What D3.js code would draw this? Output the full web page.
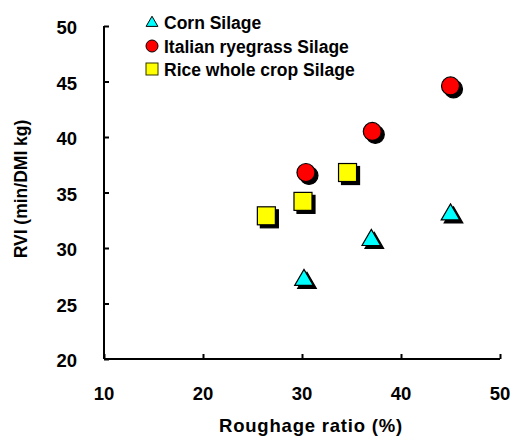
<!DOCTYPE html>
<html>
<head>
<meta charset="utf-8">
<script src="https://cdn.jsdelivr.net/npm/d3@7"></script>
<style>
  body { margin: 0; background: #fff; }
  text { font-family: "Liberation Sans", Arial, sans-serif; font-weight: bold; }
</style>
</head>
<body>
<div id="chart"></div>
<script>
// data
var seriesNames = ['Corn Silage', 'Italian ryegrass Silage', 'Rice whole crop Silage'];
var cornX = [30.2, 37.0, 45.0];
var cornY = [27.2, 30.8, 33.1];
var ryeX = [30.4, 37.1, 45.0];
var ryeY = [36.8, 40.5, 44.6];
var riceX = [26.4, 30.1, 34.6];
var riceY = [32.9, 34.2, 36.8];
var xTicks = [10, 20, 30, 40, 50];
var yTicks = [20, 25, 30, 35, 40, 45, 50];

(function () {
    "use strict";
    var W = 512, H = 436;
    var svg = d3.select('#chart').append('svg')
        .attr('width', W).attr('height', H);

    var x = d3.scaleLinear().domain([10, 50]).range([104, 500]);
    var y = d3.scaleLinear().domain([20, 50]).range([359, 26]);

    //axes
    var xAxis = svg.append('g')
        .attr('transform', 'translate(0,' + y(20) + ')')
        .call(d3.axisTop(x).tickValues(xTicks).tickSize(5).tickFormat(''));
    var yAxis = svg.append('g')
        .attr('transform', 'translate(' + x(10) + ',0)')
        .call(d3.axisRight(y).tickValues(yTicks).tickSize(5).tickFormat(''));
    [xAxis, yAxis].forEach(function (a) {
        a.select('.domain').attr('stroke', '#000').attr('stroke-width', 2);
        a.selectAll('.tick line').attr('stroke', '#000').attr('stroke-width', 2);
    });
    xAxis.select('.domain').attr('d', 'M' + x(10) + ',0H' + x(50));
    yAxis.select('.domain').attr('d', 'M0,' + y(20) + 'V' + y(50));

    // tick labels
    svg.selectAll('.xl').data(xTicks).enter().append('text')
        .attr('x', function (d) { return x(d); })
        .attr('y', 400)
        .attr('text-anchor', 'middle')
        .style('font-size', '18.5px')
        .text(function (d) { return d; });
    svg.selectAll('.yl').data(yTicks).enter().append('text')
        .attr('x', 77)
        .attr('y', function (d) { return y(d) + 8; })
        .attr('text-anchor', 'end')
        .style('font-size', '18.5px')
        .text(function (d) { return d; });

    svg.append('text')
        .attr('x', 311).attr('y', 432)
        .attr('text-anchor', 'middle')
        .style('font-size', '18.5px')
        .style('letter-spacing', '0.8px')
        .text('Roughage ratio (%)');
    svg.append('text')
        .attr('transform', 'translate(27,' + 189 + ') rotate(-90)')
        .attr('text-anchor', 'middle')
        .style('font-size', '17.5px')
        .text('RVI (min/DMI kg)');

    //markers
    var tri = d3.symbol().type(d3.symbolTriangle).size(150);
    function draw(xs, ys, kind) {
        xs.forEach(function (xv, i) {
            var cx = x(xv), cy = y(ys[i]);
            [[3, 3, '#000'], [0, 0, null]].forEach(function (o) {
                var g = svg.append('g').attr('transform', 'translate(' + (cx + o[0]) + ',' + (cy + o[1]) + ')');
                var m;
                if (kind === 'tri') {
                    m = g.append('path').attr('d', tri).attr('transform', 'translate(0,1)').attr('fill', o[2] || '#00ffff');
                } else if (kind === 'circle') {
                    m = g.append('circle').attr('r', 9).attr('fill', o[2] || '#ff0000');
                } else {
                    m = g.append('rect').attr('x', -9).attr('y', -9).attr('width', 18).attr('height', 18)
                        .attr('fill', o[2] || '#ffff00');
                }
                m.attr('stroke', '#000').attr('stroke-width', 1.2);
            });
        });
    }
    draw(cornX, cornY, 'tri');
    draw(ryeX, ryeY, 'circle');
    draw(riceX, riceY, 'rect');

    //legend
    var legY = [22, 46, 69];
    var lg = svg.append('g');
    lg.append('path').attr('d', d3.symbol().type(d3.symbolTriangle).size(60))
        .attr('transform', 'translate(152,' + (legY[0] + 1) + ')')
        .attr('fill', '#00ffff').attr('stroke', '#000').attr('stroke-width', 1);
    lg.append('circle').attr('cx', 152).attr('cy', legY[1]).attr('r', 6)
        .attr('fill', '#ff0000').attr('stroke', '#000').attr('stroke-width', 1);
    lg.append('rect').attr('x', 146).attr('y', legY[2] - 6).attr('width', 12).attr('height', 12)
        .attr('fill', '#ffff00').attr('stroke', '#333300').attr('stroke-width', 1);
    lg.selectAll('.lt').data(seriesNames).enter().append('text')
        .attr('x', 164)
        .attr('y', function (d, i) { return legY[i] + 7; })
        .style('font-size', '17.5px')
        .text(function (d) { return d; });
})();
</script>
</body>
</html>
